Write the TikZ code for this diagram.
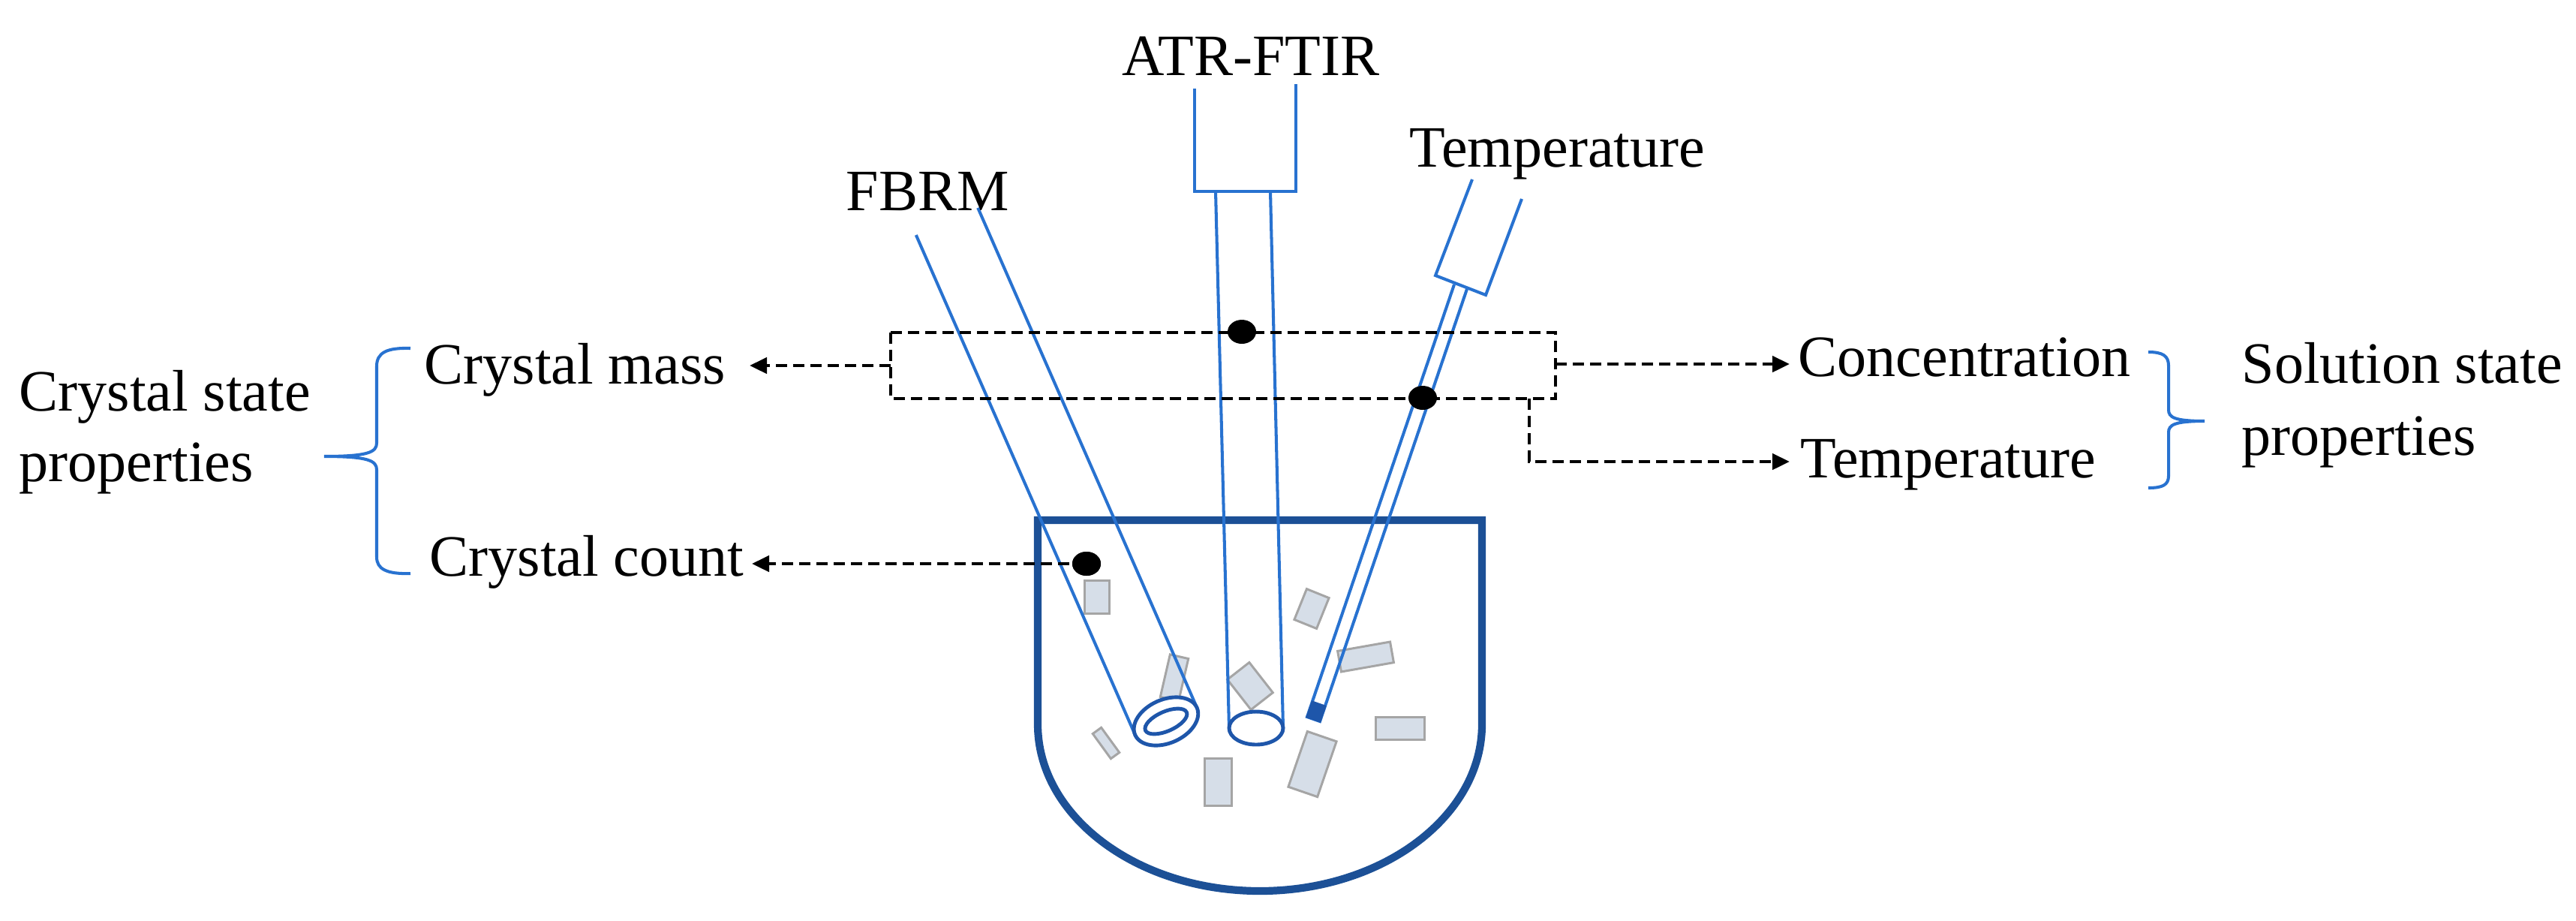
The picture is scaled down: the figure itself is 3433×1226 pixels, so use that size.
\documentclass[tikz,border=0pt]{standalone}
\usepackage{fontspec}
\setmainfont{Liberation Serif}
\usetikzlibrary{arrows.meta,shapes.geometric}
\definecolor{probe}{RGB}{40,114,208}
\definecolor{probedk}{RGB}{30,86,170}
\definecolor{vessel}{RGB}{28,80,150}
\definecolor{xfill}{RGB}{214,222,232}
\definecolor{xline}{RGB}{165,165,165}
\begin{document}
\begin{tikzpicture}[x=0.01cm,y=-0.01cm,
  lbl/.style={font=\fontsize{22.2}{26.6}\selectfont, inner sep=0, anchor=base west},
  probeln/.style={draw=probe, line width=1.15pt, line join=miter},
  ringln/.style={draw=probedk, line width=1.4pt},
  vesselln/.style={draw=vessel, line width=2.9pt},
  bracel/.style={draw=probe, line width=1.15pt},
  xtal/.style={rectangle, draw=xline, fill=xfill, line width=0.85pt, inner sep=0},
  dashln/.style={line width=1.3pt, dash pattern=on 0.15cm off 0.08cm},
  arr/.style={dashln, -{Triangle[length=0.23cm,width=0.21cm]}},
  dotnd/.style={ellipse, fill=black, minimum width=0.38cm, minimum height=0.32cm, inner sep=0}
]
\useasboundingbox (0,0) rectangle (3433,1226);

% vessel
\draw[vesselln, line join=miter] (1383,965) -- (1383,693) -- (1975,693) -- (1975,965)
  arc[start angle=0, end angle=180, x radius=296, y radius=222];

% crystals
\node[xtal, minimum width=0.33cm, minimum height=0.44cm] (x1) at (1462,795) {};
\node[xtal, minimum width=0.14cm, minimum height=0.41cm, rotate=36] (x2) at (1474,990) {};
\node[xtal, minimum width=0.25cm, minimum height=0.58cm, rotate=-13] (x3) at (1565,903) {};
\node[xtal, minimum width=0.51cm, minimum height=0.37cm, rotate=-52] (x4) at (1666,914) {};
\node[xtal, minimum width=0.32cm, minimum height=0.44cm, rotate=-22] (x5) at (1748,811) {};
\node[xtal, minimum width=0.71cm, minimum height=0.28cm, rotate=10] (x6) at (1820,875) {};
\node[xtal, minimum width=0.65cm, minimum height=0.30cm] (x7) at (1866,970) {};
\node[xtal, minimum width=0.41cm, minimum height=0.78cm, rotate=-19] (x8) at (1749,1018) {};
\node[xtal, minimum width=0.36cm, minimum height=0.63cm] (x9) at (1623,1042) {};

% FBRM probe
\coordinate (fbB) at (1554,961);
\draw[probeln] (1220.8,313.1) -- (1512.8,979.1);
\draw[probeln] (1303.2,276.9) -- (1595.2,942.9);
\draw[ringln, fill=white, rotate around={23.7:(fbB)}] (fbB) ellipse [x radius=45, y radius=29];
\draw[ringln, rotate around={23.7:(fbB)}] (fbB) ellipse [x radius=30, y radius=13];

% ATR-FTIR probe
\coordinate (atB) at (1674,970);
\draw[probeln] (1592,118) -- (1592,255) -- (1727,255) -- (1727,112);
\draw[probeln] (1620,255) -- (1638,970);
\draw[probeln] (1693,255) -- (1710,970);
\draw[ringln, fill=white] (atB) ellipse [x radius=36, y radius=22];

% Temperature probe
\draw[probeln] (1962,239) -- (1913,367) -- (1980,393) -- (2028,265);
\draw[probeln] (1938,379) -- (1742,955) -- (1759,961) -- (1955,385);
\draw[draw=probedk, fill=probedk, line width=0.8pt] (1749,935) -- (1766,941) -- (1759,961) -- (1742,955) -- cycle;

% dashed box and connectors
\draw[dashln] (1187,443) rectangle (2073,531);
\coordinate (bxL) at (1187,487);
\coordinate (bxR) at (2073,485);
\coordinate (bxB) at (2038,531);
\coordinate (bxK) at (2038,615);
\coordinate (cmA) at (999,487);
\coordinate (ccA) at (1002,751);
\coordinate (coA) at (2385,485);
\coordinate (teA) at (2385,615);
\draw[arr] (bxL) -- (cmA);
\draw[arr] (bxR) -- (coA);
\draw[arr] (bxB) -- (bxK) -- (teA);
\node[dotnd] (d1) at (1655,442) {};
\node[dotnd] (d2) at (1896,530) {};
\node[dotnd] (d3) at (1448,751) {};
\draw[arr] (d3.center) -- (ccA);
\node[dotnd] at (d3) {};

% labels
\node[lbl] (fbrm) at (1127,280) {FBRM};
\node[lbl] (atr) at (1495,100) {ATR-FTIR};
\node[lbl] (tmp) at (1878,222) {Temperature};
\node[lbl] (cmass) at (565,511) {Crystal mass};
\node[lbl] (ccount) at (572,767) {Crystal count};
\node[lbl] (cs1) at (25,547) {Crystal state};
\node[lbl] (cs2) at (25,641) {properties};
\node[lbl] (conc) at (2396,501) {Concentration};
\node[lbl] (temp2) at (2399,636) {Temperature};
\node[lbl] (ss1) at (2987,510) {Solution state};
\node[lbl] (ss2) at (2987,606) {properties};

% braces
\draw[bracel] (547,464) .. controls (515,463) and (502,470) .. (502,488) -- (502,590)
  .. controls (502,602) and (492,608) .. (432,608)
  .. controls (492,608) and (502,614) .. (502,626) -- (502,742)
  .. controls (502,758) and (515,765) .. (547,764);
\draw[bracel] (2863,469) .. controls (2882,469) and (2890,474) .. (2890,487) -- (2890,546)
  .. controls (2890,556) and (2898,561) .. (2938,561)
  .. controls (2898,561) and (2890,566) .. (2890,576) -- (2890,634)
  .. controls (2890,646) and (2882,650) .. (2863,650);
\end{tikzpicture}
\end{document}
